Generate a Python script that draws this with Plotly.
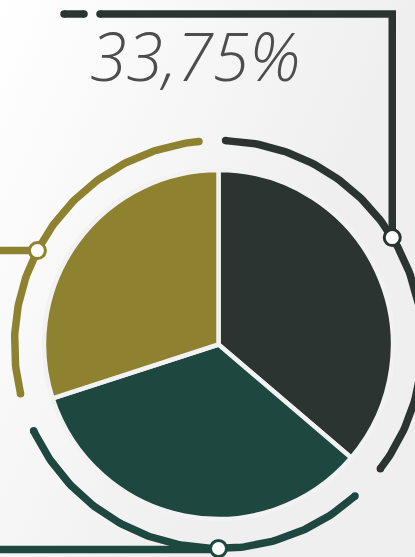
import math, base64
import plotly.graph_objects as go

# ---- data ----
labels = ["Segment A", "Segment B", "Segment C"]
values = [36.25, 33.75, 30.0]
colors = ["#2b3431", "#1e4740", "#8e8230"]
headline = "33,75%"

# ---- geometry (pixels) ----
W, H = 415, 557
CX, CY = 218.5, 344.5
PIE_R = 174.5
ARC_R = 204
arc_pad_start = [2.0, 7.5, 4.0]
arc_pad_end = [3.0, 7.0, 5.5]
connector_angles = [58.4, 180.0, 297.4]

def pt(deg, r=ARC_R):
    t = math.radians(deg)
    return CX + r * math.sin(t), CY - r * math.cos(t)

fig = go.Figure()

# background gradient
svg = ('<svg xmlns="http://www.w3.org/2000/svg" width="415" height="557">'
       '<defs><linearGradient id="g" x1="0" y1="0" x2="0.75" y2="0.45">'
       '<stop offset="0" stop-color="#ffffff"/><stop offset="1" stop-color="#efefef"/>'
       '</linearGradient></defs><rect width="415" height="557" fill="url(#g)"/></svg>')
src = "data:image/svg+xml;base64," + base64.b64encode(svg.encode()).decode()
fig.add_layout_image(dict(source=src, xref="paper", yref="paper", x=0, y=1,
                          sizex=1, sizey=1, xanchor="left", yanchor="top",
                          sizing="stretch", layer="below"))

# pie
fig.add_trace(go.Pie(labels=labels, values=values, sort=False, direction="clockwise",
                     rotation=0, marker=dict(colors=colors, line=dict(color="#f2f2f2", width=4.5)),
                     textinfo="none", hoverinfo="label+percent", showlegend=False,
                     domain=dict(x=[(CX - PIE_R) / W, (CX + PIE_R) / W],
                                 y=[(H - CY - PIE_R) / H, (H - CY + PIE_R) / H])))

total = sum(values)
cum = 0
for i, v in enumerate(values):
    a0 = cum / total * 360 + arc_pad_start[i]
    a1 = (cum + v) / total * 360 - arc_pad_end[i]
    cum += v
    n = 120
    xs, ys = [], []
    for k in range(n + 1):
        x, y = pt(a0 + (a1 - a0) * k / n)
        xs.append(x); ys.append(y)
    fig.add_trace(go.Scatter(x=xs, y=ys, mode="lines", line=dict(color=colors[i], width=7.5),
                             hoverinfo="skip", showlegend=False))
    fig.add_trace(go.Scatter(x=[xs[0], xs[-1]], y=[ys[0], ys[-1]], mode="markers",
                             marker=dict(color=colors[i], size=7.5), hoverinfo="skip", showlegend=False))

# connectors
dx, dy = pt(connector_angles[0])
gx, gy = pt(connector_angles[1])
ox, oy = pt(connector_angles[2])
TOP_Y = 14
fig.add_trace(go.Scatter(x=[dx, dx, 100], y=[dy, TOP_Y, TOP_Y], mode="lines",
                         line=dict(color=colors[0], width=7.5), hoverinfo="skip", showlegend=False))
fig.add_trace(go.Scatter(x=[100, 64, 84], y=[TOP_Y, TOP_Y, TOP_Y], mode="markers",
                         marker=dict(color=colors[0], size=7.5), hoverinfo="skip", showlegend=False))
fig.add_trace(go.Scatter(x=[64, 84], y=[TOP_Y, TOP_Y], mode="lines",
                         line=dict(color=colors[0], width=7.5), hoverinfo="skip", showlegend=False))
fig.add_trace(go.Scatter(x=[0, gx], y=[gy + 1, gy + 1], mode="lines",
                         line=dict(color=colors[1], width=7.5), hoverinfo="skip", showlegend=False))
fig.add_trace(go.Scatter(x=[0, ox], y=[oy, oy], mode="lines",
                         line=dict(color=colors[2], width=7.5), hoverinfo="skip", showlegend=False))
fig.add_trace(go.Scatter(x=[dx, gx, ox], y=[dy, gy, oy], mode="markers",
                         marker=dict(color="white", size=16, line=dict(color=colors, width=3)),
                         hoverinfo="skip", showlegend=False))

fig.add_annotation(x=195, y=55, text=headline, showarrow=False, xanchor="center", yanchor="middle",
                   font=dict(family="Open Sans", size=66, color="#4d4d4d", weight=300, style="italic"))

fig.update_layout(width=W, height=H, margin=dict(l=0, r=0, t=0, b=0),
                  paper_bgcolor="#f1f1f1", plot_bgcolor="rgba(0,0,0,0)",
                  xaxis=dict(range=[0, W], visible=False, fixedrange=True),
                  yaxis=dict(range=[H, 0], visible=False, fixedrange=True))

fig.write_html("out.html", config={"displayModeBar": False},
               post_script="document.body.style.margin='0px';document.body.style.overflow='hidden';")
